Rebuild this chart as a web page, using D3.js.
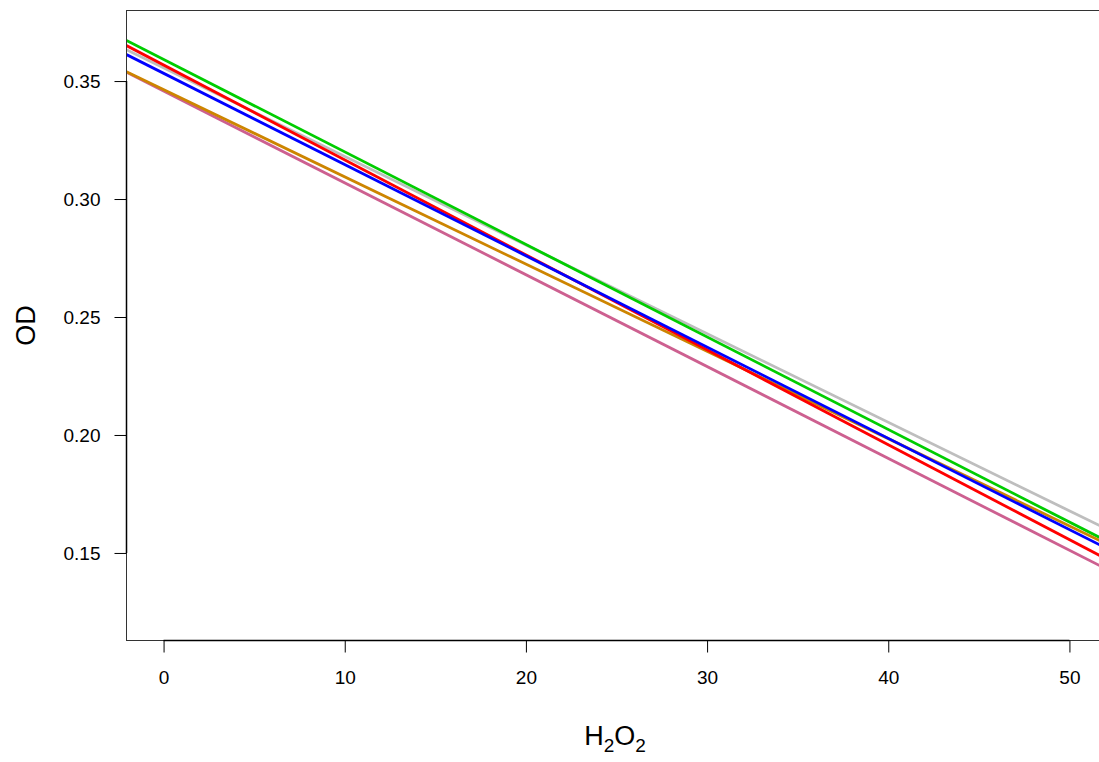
<!DOCTYPE html>
<html>
<head>
<meta charset="utf-8">
<script src="https://cdn.jsdelivr.net/npm/d3@7"></script>
<style>
  body { margin: 0; background: #fff; }
  text { font-family: "Liberation Sans", Arial, sans-serif; fill: #000; }
</style>
</head>
<body>
<div id="chart"></div>
<script>
// fitted lines, OD = intercept + slope * H2O2 (drawn like abline)
const seriesNames = ["pink", "gray", "green", "orange", "red", "blue"];
const seriesColors = ["#CD6090", "#BEBEBE", "#00CD00", "#CD8500", "#FF0000", "#0000FF"];
const intercepts = [0.3458, 0.3556, 0.3592, 0.3464, 0.3568, 0.3533];
const slopes = [-0.003893, -0.003755, -0.003922, -0.003699, -0.004023, -0.003868];

const xTicks = [0, 10, 20, 30, 40, 50];
const yTicks = [0.15, 0.20, 0.25, 0.30, 0.35];

const width = 1099, height = 762;
const margin = { top: 10.5, left: 126.5, bottom: 640.5, right: 1112 };

const svg = d3.select("#chart").append("svg")
  .attr("width", width)
  .attr("height", height);

const x = d3.scaleLinear().domain([-2.046, 52.35]).range([margin.left, margin.right]);
const y = d3.scaleLinear().domain([0.1129, 0.3799]).range([margin.bottom, margin.top]);

svg.append("clipPath").attr("id", "plotclip")
  .append("rect")
  .attr("x", margin.left).attr("y", margin.top)
  .attr("width", margin.right - margin.left)
  .attr("height", margin.bottom - margin.top);

// lines
const lineData = seriesNames.map((n, i) => ({
  name: n, color: seriesColors[i], a: intercepts[i], b: slopes[i]
}));
const [x0, x1] = x.domain();
svg.append("g")
  .attr("clip-path", "url(#plotclip)")
  .selectAll("line")
  .data(lineData)
  .join("line")
  .attr("x1", x(x0))
  .attr("x2", x(x1))
  .attr("y1", d => y(d.a + d.b * x0))
  .attr("y2", d => y(d.a + d.b * x1))
  .attr("stroke", d => d.color)
  .attr("stroke-width", 2.8);

// box
svg.append("rect")
  .attr("x", margin.left).attr("y", margin.top)
  .attr("width", margin.right - margin.left)
  .attr("height", margin.bottom - margin.top)
  .attr("fill", "none")
  .attr("stroke", "#333")
  .attr("stroke-width", 1);

// x axis
const xAxis = svg.append("g")
  .attr("transform", `translate(0,${margin.bottom})`)
  .call(d3.axisBottom(x).tickValues(xTicks).tickSize(12).tickPadding(18).tickFormat(d3.format("d")));
xAxis.attr("font-size", 19);
xAxis.select(".domain")
  .attr("d", `M${x(xTicks[0])},0H${x(xTicks[xTicks.length - 1])}`)
  .attr("stroke", "#000").attr("stroke-width", 1.5);
xAxis.selectAll(".tick line").attr("stroke", "#000");
xAxis.selectAll("text").style("font-size", "19px").attr("fill", "#000");

// y axis
const yAxis = svg.append("g")
  .attr("transform", `translate(${margin.left},0)`)
  .call(d3.axisLeft(y).tickValues(yTicks).tickSize(12).tickPadding(14).tickFormat(d3.format(".2f")));
yAxis.attr("font-size", 19);
yAxis.select(".domain")
  .attr("d", `M0,${y(yTicks[0])}V${y(yTicks[yTicks.length - 1])}`)
  .attr("stroke", "#000").attr("stroke-width", 1.5);
yAxis.selectAll(".tick line").attr("stroke", "#000");
yAxis.selectAll("text").style("font-size", "19px").attr("fill", "#000");

// axis titles
const xl = svg.append("text")
  .attr("x", 615)
  .attr("y", 745)
  .attr("text-anchor", "middle")
  .style("font-size", "27px");
xl.append("tspan").text("H");
xl.append("tspan").text("2").attr("dy", 7).style("font-size", "19px");
xl.append("tspan").text("O").attr("dy", -7);
xl.append("tspan").text("2").attr("dy", 7).style("font-size", "19px");

svg.append("text")
  .attr("transform", `translate(35,${(margin.top + margin.bottom) / 2}) rotate(-90)`)
  .attr("text-anchor", "middle")
  .style("font-size", "27px")
  .text("OD");
</script>
</body>
</html>
